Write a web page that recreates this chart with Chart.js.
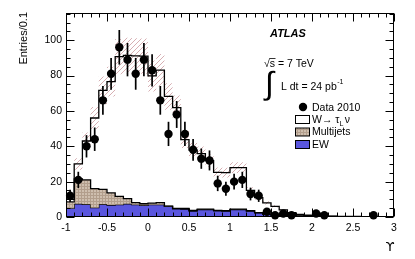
<!DOCTYPE html>
<html><head><meta charset="utf-8">
<script src="https://cdn.jsdelivr.net/npm/chart.js@4.4.0/dist/chart.umd.min.js"></script>
<style>html,body{margin:0;padding:0;background:#fff;}</style>
</head><body>
<canvas id="c" width="415" height="259"></canvas>
<script>
// ---- data ----
const binEdges = [-1.0,-0.9,-0.8,-0.7,-0.6,-0.5,-0.4,-0.3,-0.2,-0.1,0.0,0.1,0.2,0.3,0.4,0.5,0.6,0.7,0.8,0.9,1.0,1.1,1.2,1.3,1.4,1.5,1.6,1.7,1.8,1.9,2.0,2.1,2.2,2.3,2.4,2.5,2.6,2.7,2.8,2.9,3.0];
const binCenters = [-0.95,-0.85,-0.75,-0.65,-0.55,-0.45,-0.35,-0.25,-0.15,-0.05,0.05,0.15,0.25,0.35,0.45,0.55,0.65,0.75,0.85,0.95,1.05,1.15,1.25,1.35,1.45,1.55,1.65,1.75,1.85,1.95,2.05,2.15,2.25,2.35,2.45,2.55,2.65,2.75,2.85,2.95];
const dataCounts = [12,21,40,44,66,81,96,89,81,89,83,66,47,58,47,38,33,32,19,16,20,21,13,12,3,1,2,1,null,null,2,1,null,null,null,null,null,1,null,null];
const ewValues = [5,7.5,7.2,5.3,7.2,6.8,7,7.5,7,6.6,7,7,6,4.6,4.5,3.4,4.2,4.2,3.5,3.4,4.2,4.2,3.4,2.3,1.5,1.0,0.8,0.6,0.5,0.4,0.3,0.25,0.25,0.2,0.15,0.15,0.1,0.1,0.08,0.08];
const multijetValues = [3.5,14,13.8,10.7,8.4,6.8,4.7,2.9,1.1,0.9,0.8,1.1,0.2,0.3,0.3,0.4,0.2,0.2,0.2,0.2,0.2,0.2,0.2,0.2,0.2,0.2,0.1,0.1,0.1,0.1,0.1,0.05,0.05,0.05,0.05,0.05,0.05,0.05,0.02,0.02];
const wTauNuValues = [1.5,8.5,22,40,56,63,79,81,83,83.5,72,75,62,57,39,34,31.5,27.5,21.5,21.5,23.5,23.5,11.5,8.5,6.3,4.8,3.1,1.8,0.9,0.5,0.4,0.3,0.2,0.15,0.1,0.1,0.05,0.05,0,0];
const bandRelUnc = 0.11;
const xTickValues = [-1,-0.5,0,0.5,1,1.5,2,2.5,3];
const xTickLabels = ['-1','-0.5','0','0.5','1','1.5','2','2.5','3'];
const yTickValues = [0,20,40,60,80,100];
const yTickLabels = ['0','20','40','60','80','100'];

// ---- derived stacks ----
const ewTop = ewValues.slice();
const mjTop = ewValues.map((v,i)=>v+multijetValues[i]);
const totTop = mjTop.map((v,i)=>v+wTauNuValues[i]);
const bandLo = totTop.map(v=>v*(1-bandRelUnc));
const bandHi = totTop.map(v=>v*(1+bandRelUnc));
function steps(vals){
  const pts = vals.map((v,i)=>({x:binEdges[i], y:v}));
  pts.push({x:binEdges[binEdges.length-1], y:vals[vals.length-1]});
  return pts;
}
const FONT = '"Liberation Sans", Arial, Helvetica, sans-serif';

// ---- patterns ----
function makeHatch(){
  const c = document.createElement('canvas'); c.width=5; c.height=5;
  const g = c.getContext('2d');
  g.strokeStyle='rgba(205,155,160,0.8)'; g.lineWidth=1;
  g.beginPath(); g.moveTo(0,5); g.lineTo(5,0); g.moveTo(-1,1); g.lineTo(1,-1); g.moveTo(4,6); g.lineTo(6,4); g.stroke();
  return g.createPattern(c,'repeat');
}
function makeMJ(){
  const c = document.createElement('canvas'); c.width=3; c.height=3;
  const g = c.getContext('2d');
  g.fillStyle='rgb(206,190,174)'; g.fillRect(0,0,3,3);
  g.fillStyle='rgb(178,158,140)'; g.fillRect(0,0,3,1); g.fillRect(0,0,1,3);
  return g.createPattern(c,'repeat');
}
const hatch = makeHatch();
const mjPat = makeMJ();
const BLUE = 'rgb(90,86,222)';

const errorBars = {
  id:'errorBars',
  afterDatasetsDraw(chart){
    const {ctx, scales:{x,y}} = chart;
    ctx.save(); ctx.strokeStyle='#000'; ctx.lineWidth=1.7;
    binCenters.forEach((c,i)=>{
      const n = dataCounts[i]; if(n==null) return;
      const e = Math.sqrt(n);
      const px = x.getPixelForValue(c);
      ctx.beginPath();
      ctx.moveTo(px, y.getPixelForValue(n+e));
      ctx.lineTo(px, y.getPixelForValue(Math.max(0,n-e)));
      ctx.stroke();
    });
    // frame + ticks
    const a = chart.chartArea;
    ctx.lineWidth=1; ctx.strokeStyle='#000';
    const L=Math.round(a.left)+0.5, R=Math.round(a.right)-0.5, T=Math.round(a.top)+0.5, B=Math.round(a.bottom)-0.5;
    ctx.strokeRect(L,T,R-L,B-T);
    ctx.beginPath();
    for(let k=0;k<=40;k++){
      const v=-1+k*0.1; const px=Math.round(x.getPixelForValue(v))+0.5;
      const len = (k%5===0)?8:4;
      ctx.moveTo(px,B); ctx.lineTo(px,B-len);
      ctx.moveTo(px,T); ctx.lineTo(px,T+len);
    }
    for(let k=0;k<=23;k++){
      const v=k*5; const py=Math.round(y.getPixelForValue(v))+0.5;
      if(py<T) continue;
      const len = (k%4===0)?8:4;
      ctx.moveTo(L,py); ctx.lineTo(L+len,py);
      ctx.moveTo(R,py); ctx.lineTo(R-len,py);
    }
    ctx.stroke();
    ctx.restore();
  }
};

const texts = {
  id:'texts',
  afterDraw(chart){
    const ctx = chart.ctx;
    ctx.save();
    ctx.fillStyle='#000';
    // y title
    ctx.save();
    ctx.font = '11px '+FONT;
    ctx.translate(27, 12); ctx.rotate(-Math.PI/2);
    ctx.textAlign='right'; ctx.textBaseline='alphabetic';
    ctx.fillText('Entries/0.1', 0, 0);
    ctx.restore();
    // x title
    ctx.font = '13px "DejaVu Sans", sans-serif';
    ctx.textAlign='center'; ctx.textBaseline='alphabetic';
    ctx.fillText('ϒ', 390, 251);
    ctx.textAlign='left';
    // ATLAS
    ctx.font = 'italic bold 11px '+FONT;
    ctx.fillText('ATLAS', 270, 37);
    // sqrt s
    ctx.font = '10.5px '+FONT;
    ctx.fillText('√s = 7 TeV', 264, 67);
    const wr = ctx.measureText('√').width, ws = ctx.measureText('s').width;
    ctx.lineWidth=0.8; ctx.strokeStyle='#000';
    ctx.beginPath(); ctx.moveTo(264+wr-0.5, 58.5); ctx.lineTo(264+wr+ws+0.5, 58.5); ctx.stroke();
    // integral
    ctx.font = '32px '+FONT;
    ctx.fillText('∫', 265, 94);
    ctx.font = '10.5px '+FONT;
    const t2 = 'L dt = 24 pb';
    ctx.fillText(t2, 281, 90);
    const w2 = ctx.measureText(t2).width;
    ctx.font = '7px '+FONT;
    ctx.fillText('-1', 281+w2+0.5, 84);
    // legend
    ctx.font = '10.5px '+FONT;
    ctx.beginPath(); ctx.arc(303,107,4.2,0,Math.PI*2); ctx.fill();
    ctx.fillText('Data 2010', 312, 110.7);
    ctx.lineWidth=1;
    // W box
    ctx.fillStyle='#fff'; ctx.fillRect(295.5,115.5,14,8); ctx.strokeRect(295.5,115.5,14,8);
    ctx.fillStyle='#000';
    ctx.fillText('W→ τ', 312, 122.7);
    let wx = 312 + ctx.measureText('W→ τ').width;
    ctx.font = '7px '+FONT; ctx.fillText('L', wx, 125.5);
    wx += ctx.measureText('L').width + 1.5;
    ctx.font = '10.5px '+FONT; ctx.fillText('ν', wx, 122.7);
    // MJ box
    ctx.fillStyle=mjPat; ctx.fillRect(295.5,128,14,8); ctx.strokeRect(295.5,128,14,8);
    ctx.fillStyle='#000'; ctx.fillText('Multijets', 312, 135.2);
    // EW box
    ctx.fillStyle=BLUE; ctx.fillRect(295.5,140.5,14,8); ctx.strokeRect(295.5,140.5,14,8);
    ctx.fillStyle='#000'; ctx.fillText('EW', 312, 147.7);
    ctx.restore();
  }
};

const dataPts = [];
binCenters.forEach((c,i)=>{ if(dataCounts[i]!=null) dataPts.push({x:c,y:dataCounts[i]}); });

new Chart(document.getElementById('c'), {
  type:'line',
  data:{datasets:[
    {label:'EW', data:steps(ewTop), stepped:true, borderColor:'#000', borderWidth:1.3, backgroundColor:BLUE, fill:'origin', pointRadius:0, order:5},
    {label:'Multijets', data:steps(mjTop), stepped:true, borderColor:'#000', borderWidth:1.3, backgroundColor:mjPat, fill:0, pointRadius:0, order:4},
    {label:'bandLo', data:steps(bandLo), stepped:true, borderWidth:0, borderColor:'rgba(0,0,0,0)', pointRadius:0, fill:false, order:3},
    {label:'bandHi', data:steps(bandHi), stepped:true, borderWidth:0, borderColor:'rgba(0,0,0,0)', backgroundColor:hatch, pointRadius:0, fill:2, order:3},
    {label:'W', data:steps(totTop), stepped:true, borderColor:'#000', borderWidth:1.3, fill:false, pointRadius:0, order:2},
    {label:'Data 2010', data:dataPts, showLine:false, pointRadius:4.2, pointBackgroundColor:'#000', pointBorderColor:'#000', pointBorderWidth:0, order:0, clip:false}
  ]},
  options:{
    responsive:false, animation:false, events:[],
    layout:{padding:{left:0,right:21,top:13,bottom:0}},
    plugins:{legend:{display:false}, tooltip:{enabled:false}},
    scales:{
      x:{type:'linear', min:-1, max:3, grid:{display:false, drawTicks:false}, border:{display:false},
        afterBuildTicks:s=>{ s.ticks = xTickValues.map(v=>({value:v})); },
        ticks:{autoSkip:false, maxRotation:0, padding:5, color:'#000', font:{family:FONT,size:10.5},
          callback:(v)=>{ const i=xTickValues.indexOf(v); return i>=0?xTickLabels[i]:''; }},
        afterFit:s=>{ s.height=42; }
      },
      y:{min:0, max:115.4, grid:{display:false, drawTicks:false}, border:{display:false},
        afterBuildTicks:s=>{ s.ticks = yTickValues.map(v=>({value:v})); },
        ticks:{autoSkip:false, padding:4, color:'#000', font:{family:FONT,size:10.5},
          callback:(v)=>{ const i=yTickValues.indexOf(v); return i>=0?yTickLabels[i]:''; }},
        afterFit:s=>{ s.width=66; }
      }
    }
  },
  plugins:[errorBars, texts]
});
</script>
</body></html>
